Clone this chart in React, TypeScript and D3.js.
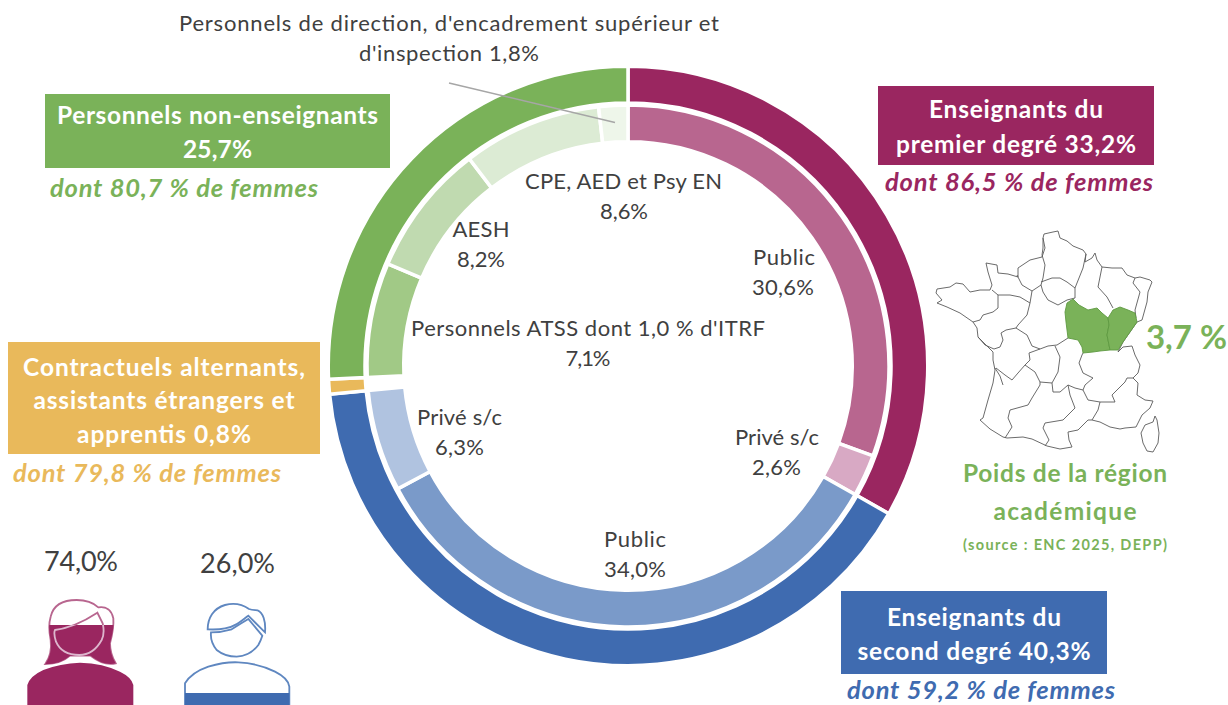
import React from "react";
import * as d3 from "d3";

const FONT = "Lato, 'Noto Sans', sans-serif";
const INK = "#404040";

// ---- data
const outerLabels = ["Enseignants du premier degré", "Enseignants du second degré", "Contractuels", "Personnels non-enseignants"];
const outerValues = [33.2, 40.3, 0.8, 25.7];
const outerColors = ["#9A2660", "#3F6BB0", "#E9B95B", "#7AB259"];
const innerLabels = ["Public 1", "Privé 1", "Public 2", "Privé 2", "Contractuels", "ATSS", "AESH", "CPE", "Direction"];
const innerValues = [30.6, 2.6, 34.0, 6.3, 0.8, 7.1, 8.2, 8.6, 1.8];
const innerColors = ["#B8668F", "#D8A9C4", "#7A9AC9", "#B0C3E0", "none", "#A1C986", "#C0DAB0", "#DCEBD4", "#EEF6EA"];
const womenShare = "74,0%";
const menShare = "26,0%";

type T = [string, number, number, number];
const ringTexts: T[] = [
  ["Personnels de direction, d'encadrement supérieur et", 449, 31, 540],
  ["d'inspection 1,8%", 449, 61, 180],
  ["CPE, AED et Psy EN", 623.5, 189, 197],
  ["8,6%", 624, 219, 48],
  ["AESH", 481, 237, 57],
  ["8,2%", 481, 267, 48],
  ["Public", 784, 265, 62],
  ["30,6%", 783, 295, 62],
  ["Personnels ATSS dont 1,0 % d'ITRF", 588, 336, 354],
  ["7,1%", 588, 366, 45],
  ["Privé s/c", 459.5, 425, 85],
  ["6,3%", 459.5, 455, 49],
  ["Privé s/c", 777, 445, 84],
  ["2,6%", 776.5, 475, 49],
  ["Public", 635, 547, 62],
  ["34,0%", 635, 577, 62],
];

const boxes = [
  { x: 45, y: 94, w: 345, h: 74, color: "#7AB259", lines: ["Personnels non-enseignants", "25,7%"], cx: 217.5, ys: [124, 158], lens: [321, 69], note: "dont 80,7 % de femmes", nx: 184, ny: 197 },
  { x: 878, y: 86, w: 276, h: 79, color: "#9A2660", lines: ["Enseignants du", "premier degré 33,2%"], cx: 1016, ys: [118, 153], lens: [174, 240], note: "dont 86,5 % de femmes", nx: 1019, ny: 191 },
  { x: 8, y: 342, w: 312, h: 112, color: "#E9B95B", lines: ["Contractuels alternants,", "assistants étrangers et", "apprentis 0,8%"], cx: 164, ys: [376, 409, 443], lens: [282, 261, 174], note: "dont 79,8 % de femmes", nx: 147, ny: 482 },
  { x: 841, y: 591, w: 266, h: 83, color: "#3F6BB0", lines: ["Enseignants du", "second degré 40,3%"], cx: 974, ys: [626, 660], lens: [174, 233], note: "dont 59,2 % de femmes", nx: 981, ny: 699 },
];

// ---- map outlines
type P = [number, number];
const franceOutline: P[] = [
  [1043,238],[1044,234],[1053,232],[1058,231],[1060,238],[1067,241],[1073,246],[1083,250],[1086,254],[1085,262],[1092,258],[1095,253],[1097,260],[1102,267],[1112,268],[1122,268],[1127,275],[1135,278],[1140,277],[1150,280],[1152,282],[1148,292],[1147,302],[1142,320],[1137,322],
  [1130,332],[1123,342],[1118,352],[1123,347],[1132,346],[1135,355],[1140,365],[1138,373],[1133,378],[1138,383],[1137,395],[1145,400],[1153,401],[1150,408],[1142,415],[1136,427],[1125,428],[1120,429],[1110,427],[1100,422],[1092,420],[1088,420],[1078,430],[1068,432],[1069,440],[1072,447],
  [1060,449],[1047,446],[1032,439],[1023,437],[1007,438],[1003,437],[990,429],[980,420],[983,418],[988,400],[993,383],[995,370],[993,360],[993,352],[983,342],
  [978,337],[977,328],[973,322],[960,313],[947,307],[937,303],[942,300],[936,293],[937,289],[950,287],[956,283],[963,284],[970,292],[980,290],[990,290],[992,285],[988,272],[986,263],[997,265],[998,273],[1008,274],[1018,277],[1018,268],[1030,260],[1042,257],[1045,248],[1043,238],
];
const regionBorders: P[][] = [
  [[1043,238],[1043,248],[1042,255],[1045,265],[1043,278],[1041,285]],
  [[1041,282],[1052,278],[1060,278],[1067,282],[1075,288],[1079,278],[1083,268],[1086,254]],
  [[1017,275],[1022,285],[1032,291],[1041,285]],
  [[992,290],[998,295],[1010,295],[1020,297],[1030,303],[1032,291]],
  [[1041,285],[1043,292],[1048,300],[1058,305],[1067,300],[1075,298],[1075,288]],
  [[998,295],[998,308],[993,312],[983,315],[980,320],[973,322]],
  [[1030,303],[1027,315],[1018,325],[1016,328]],
  [[978,337],[985,345],[994,349],[1000,347],[1003,340],[1001,333],[1006,330],[1016,328]],
  [[1016,328],[1027,335],[1032,346],[1040,349],[1048,346],[1057,345],[1068,338]],
  [[1040,349],[1029,353],[1030,360],[1025,365],[1018,373],[1012,380],[1005,375],[996,368]],
  [[1025,365],[1035,372],[1040,382]],
  [[1055,346],[1060,357],[1058,372],[1052,383],[1040,382]],
  [[1040,382],[1040,385],[1032,398],[1028,405],[1010,410],[1008,418],[1012,427],[1005,438]],
  [[1052,383],[1053,392],[1060,392],[1068,385],[1070,395],[1075,408],[1063,420],[1045,423],[1043,428],[1049,440],[1045,446]],
  [[1068,385],[1075,388],[1083,390],[1088,400],[1100,402],[1098,410],[1092,420]],
  [[1083,353],[1082,355],[1079,363],[1083,373],[1093,378],[1085,385],[1083,390]],
  [[1100,402],[1115,402],[1112,395],[1125,382],[1127,378],[1133,378]],
  [[1102,267],[1098,287],[1107,297],[1113,308]],
  [[1135,278],[1133,283],[1140,292],[1135,310],[1136,318]],
  [[995,368],[1000,376],[1003,385]],
];
const corsica: P[] = [[1155,416],[1157,420],[1159,433],[1158,443],[1153,452],[1147,451],[1143,443],[1141,433],[1145,425],[1153,422]];
const regionsGreen: P[][] = [
  [[1067,303],[1073,299],[1079,305],[1088,310],[1097,308],[1102,313],[1108,318],[1109,325],[1107,335],[1110,350],[1100,351],[1093,352],[1083,353],[1082,347],[1078,340],[1068,338],[1066,322],[1065,312]],
  [[1108,318],[1113,310],[1120,307],[1128,310],[1135,313],[1137,322],[1130,332],[1123,342],[1118,350],[1110,350],[1107,335],[1109,325]],
];

// ---- icons, in 3x units
const womanBody = "M22,345 L22,285 Q30,258 70,240 Q120,220 180,218 Q250,220 300,245 Q335,262 340,285 L340,345 Z";
const womanHair = "M76,222 C92,200 95,175 92,150 C86,120 86,100 92,80 C100,45 130,30 170,30 C200,30 222,40 235,52 C258,48 275,60 280,85 C282,110 278,130 270,160 C270,185 278,205 287,220 C260,226 235,215 212,197 L150,197 C130,215 105,222 76,222 Z";
const womanFace = "M105,120 Q165,112 232,68 L248,100 Q255,130 245,150 Q220,195 178,195 Q125,195 108,155 Q100,130 105,120 Z";
const manBody = "M30,330 L30,265 Q50,232 100,215 Q150,200 190,202 Q250,205 300,230 Q340,250 343,275 L343,330 Z";
const manHair = "M98,103 C98,70 115,40 150,30 C180,22 205,30 222,42 C232,46 240,45 248,46 C264,52 273,80 270,112 L220,62 C195,82 178,96 150,100 C132,104 115,104 98,103 Z";
const manFace = "M108,112 Q105,140 125,165 Q150,185 185,185 Q225,183 250,150 Q258,135 262,122 L220,72 Q190,90 170,103 Q140,112 108,112 Z";

const CX = 628, CY = 366;
const GAP = 3.5;

export default function App() {
  const pie = d3.pie<number>().sort(null).value((d) => d);
  const outerArc = d3.arc<d3.PieArcDatum<number>>().innerRadius(263).outerRadius(298 + GAP / 2);
  const innerArc = d3.arc<d3.PieArcDatum<number>>().innerRadius(226 - GAP / 2).outerRadius(261);
  const line = d3.line<P>();
  const closed = d3.line<P>().curve(d3.curveLinearClosed);
  return (
    <svg width={1228} height={705} viewBox="0 0 1228 705" style={{ position: "absolute", left: 0, top: 0, background: "#fff" }} fontFamily={FONT}>
      <defs>
        <clipPath id="wFill"><rect x={0} y={625} width={200} height={90} /></clipPath>
        <clipPath id="mFill"><rect x={170} y={693} width={140} height={20} /></clipPath>
      </defs>

      {pie(outerValues).map((d, i) => (
        <path key={outerLabels[i]} d={outerArc(d) as string} transform={`translate(${CX},${CY})`} fill={outerColors[i]} stroke="#fff" strokeWidth={GAP} />
      ))}
      {pie(innerValues).map((d, i) => (
        <path key={innerLabels[i]} d={innerArc(d) as string} transform={`translate(${CX},${CY})`} fill={innerColors[i]} stroke={innerColors[i] === "none" ? "none" : "#fff"} strokeWidth={GAP} />
      ))}
      <line x1={449} y1={83} x2={615} y2={122.5} stroke="#a6a6a6" strokeWidth={1.6} />

      <g fontSize={22} fill={INK} textAnchor="middle">
        {ringTexts.map((t, i) => <text key={i} x={t[1]} y={t[2]} textLength={t[3]}>{t[0]}</text>)}
      </g>

      {boxes.map((b) => (
        <g key={b.note}>
          <rect x={b.x} y={b.y} width={b.w} height={b.h} fill={b.color} />
          {b.lines.map((l, i) => (
            <text key={l} x={b.cx} y={b.ys[i]} fill="#fff" fontSize={24.5} fontWeight={700} textAnchor="middle" textLength={b.lens[i]}>{l}</text>
          ))}
          <text x={b.nx} y={b.ny} fill={b.color} fontSize={25.5} fontWeight={700} fontStyle="italic" textAnchor="middle" textLength={268}>{b.note}</text>
        </g>
      ))}

      <g fill="none" stroke="#5a5a5a" strokeWidth={0.9} strokeLinejoin="round">
        <path d={line(franceOutline) as string} />
        {regionBorders.map((r, i) => <path key={i} d={line(r) as string} />)}
        <path d={closed(corsica) as string} />
      </g>
      {regionsGreen.map((r, i) => <path key={i} d={closed(r) as string} fill="#7AB259" stroke="#5f9a42" strokeWidth={0.9} strokeLinejoin="round" />)}

      <text x={1186.5} y={349} fill="#7AB259" fontSize={33} fontWeight={700} textAnchor="middle" textLength={81}>3,7 %</text>
      <text x={1065} y={482} fill="#7AB259" fontSize={24.5} fontWeight={700} textAnchor="middle" textLength={204}>Poids de la région</text>
      <text x={1065} y={520} fill="#7AB259" fontSize={24.5} fontWeight={700} textAnchor="middle" textLength={143}>académique</text>
      <text x={1065} y={550} fill="#7AB259" fontSize={14.5} fontWeight={700} textAnchor="middle" textLength={204}>(source : ENC 2025, DEPP)</text>

      <text x={81} y={571} fill={INK} fontSize={27} textAnchor="middle" textLength={74}>{womenShare}</text>
      <text x={237.5} y={573} fill={INK} fontSize={27} textAnchor="middle" textLength={75}>{menShare}</text>

      <g transform="translate(20,590) scale(0.3333)">
        <path d={womanHair} fill="#fff" stroke="#B8668F" strokeWidth={5.5} />
        <path d={womanFace} fill="#fff" stroke="#B8668F" strokeWidth={5.5} />
      </g>
      <g clipPath="url(#wFill)">
        <g transform="translate(20,590) scale(0.3333)">
          <path d={womanHair} fill="#9A2660" />
          <path d={womanFace} fill="#9A2660" stroke="#DDB6CD" strokeWidth={5.5} />
        </g>
      </g>
      <g transform="translate(20,590) scale(0.3333)">
        <path d={womanBody} fill="#9A2660" stroke="#fff" strokeWidth={0} />
      </g>

      <g transform="translate(175,595) scale(0.3333)" fill="#fff" stroke="#5F87C0" strokeWidth={5.5}>
        <path d={manFace} />
        <path d={manHair} />
        <path d={manBody} />
      </g>
      <g clipPath="url(#mFill)">
        <g transform="translate(175,595) scale(0.3333)">
          <path d={manBody} fill="#3F6BB0" />
        </g>
      </g>
    </svg>
  );
}
